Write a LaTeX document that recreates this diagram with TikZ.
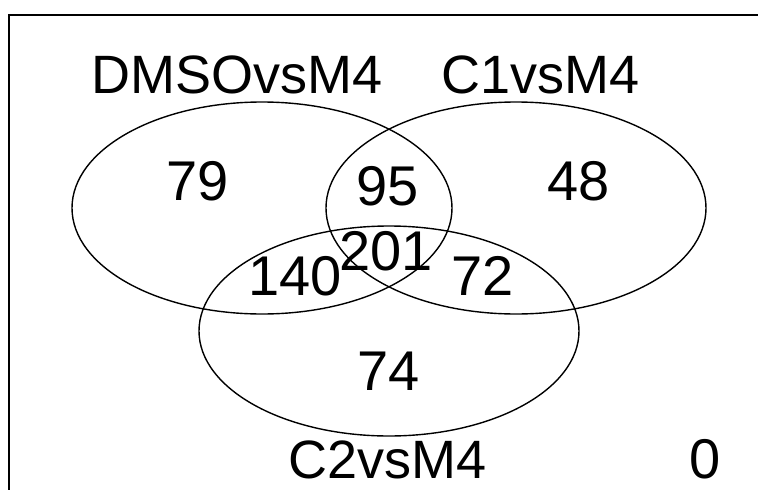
\documentclass[tikz,border=0pt]{standalone}
\usepackage{fontspec}
\setmainfont{Liberation Sans}
\begin{document}
\begin{tikzpicture}[x=1pt,y=-1pt,
  setline/.style={draw=black,line width=1.4pt},
  framel/.style={draw=black,line width=2pt},
  lbl/.style={inner sep=0pt,anchor=base,text depth=0pt,font=\fontsize{54}{54}\selectfont},
  cnt/.style={inner sep=0pt,anchor=base,text depth=0pt,font=\fontsize{56}{56}\selectfont}]
\useasboundingbox (0,0) rectangle (758,490);
\coordinate (ftl) at (9,15);
\coordinate (ftr) at (758,15);
\coordinate (fbl) at (9,490);
\draw[framel] (ftr) -- (ftl) -- (fbl);
\draw[setline] (262,208) ellipse [x radius=190,y radius=106];
\draw[setline] (516,208) ellipse [x radius=190,y radius=106];
\draw[setline] (389,331) ellipse [x radius=190,y radius=105];
\node[lbl] (nA) at (237,93) {DMSOvsM4};
\node[lbl] (nB) at (541,93) {C1vsM4};
\node[lbl] (nC) at (388,478) {C2vsM4};
\node[cnt] (c79) at (198,200) {79};
\node[cnt] (c95) at (388,205) {95};
\node[cnt] (c48) at (579,200) {48};
\node[cnt] (c201) at (386,270) {201};
\node[cnt] (c140) at (295,295) {140};
\node[cnt] (c72) at (483,295) {72};
\node[cnt] (c74) at (389,390) {74};
\node[cnt] (c0) at (705,478) {0};
\end{tikzpicture}
\end{document}
